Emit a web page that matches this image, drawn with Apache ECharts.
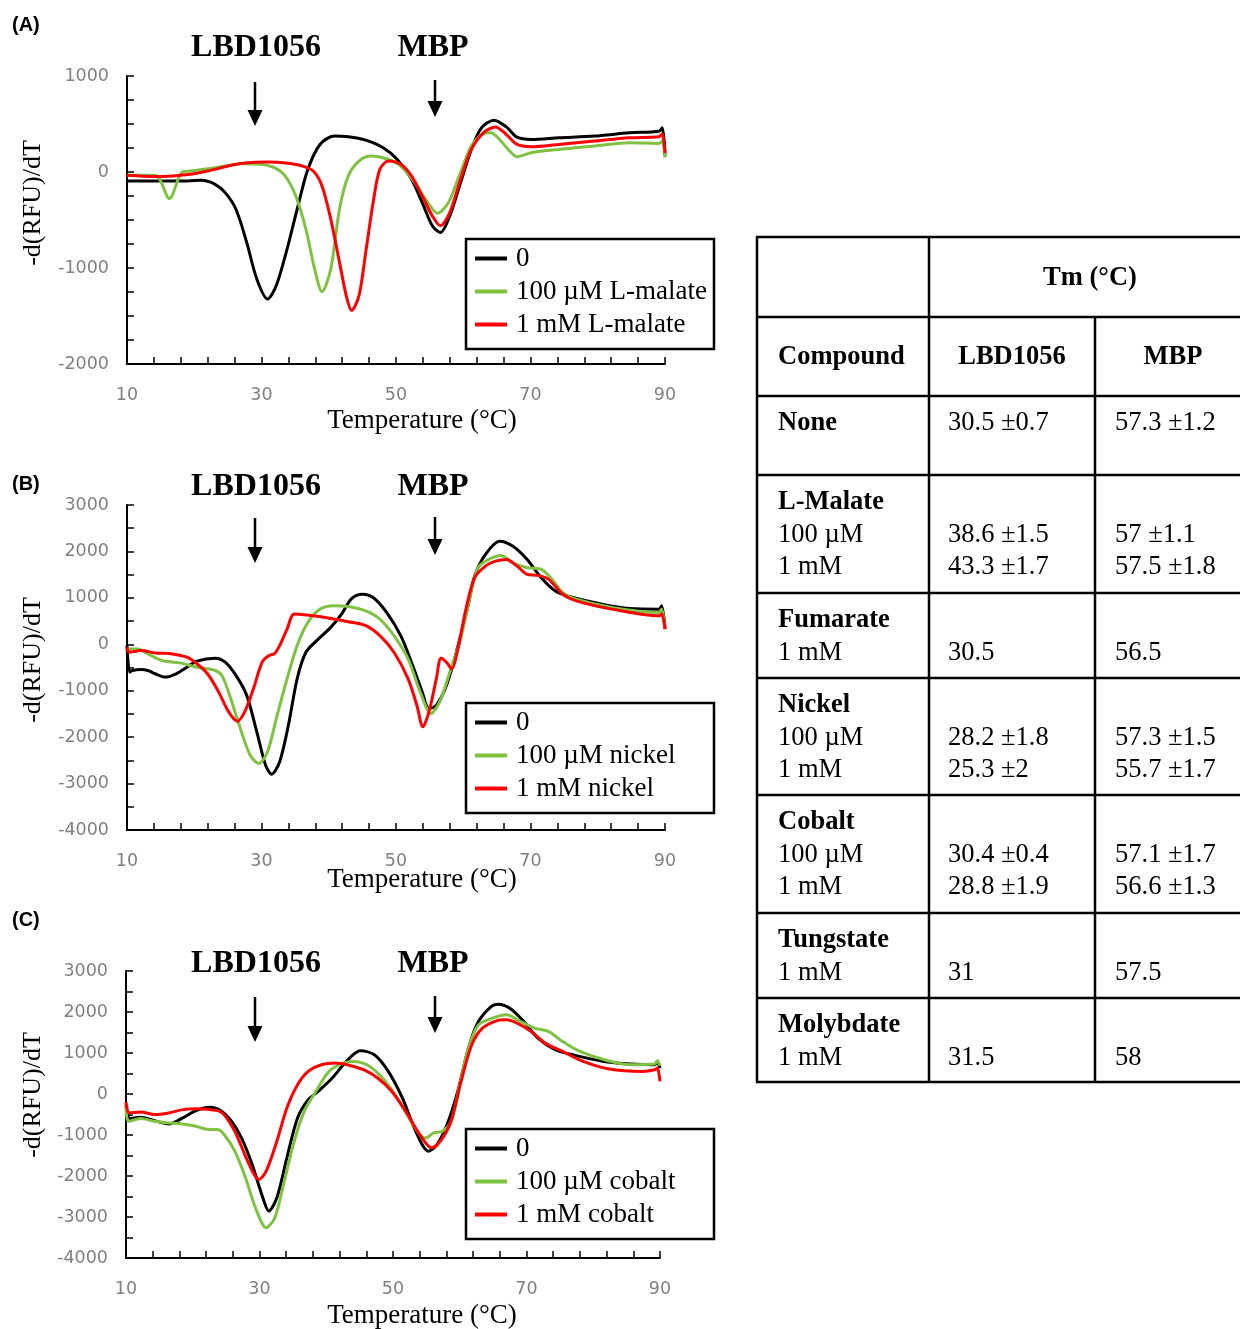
<!DOCTYPE html>
<html>
<head>
<meta charset="utf-8">
<script src="https://cdn.jsdelivr.net/npm/echarts/dist/echarts.min.js"></script>
<style>
html, body { margin: 0; padding: 0; background: #fff; }
#main { width: 1240px; height: 1329px; }
</style>
</head>
<body>
<div id="main"></div>
<script>
// 三个面板的曲线数据 [温度, -d(RFU)/dT]

// (A) L-malate
var malate0 = [[10,-93],[14,-93],[18,-93],[21,-87],[23.1,-128],[24.6,-215],[26.2,-388],[27.8,-733],[29.3,-1114],[30.9,-1322],[32.2,-1183],[33.8,-803],[35.3,-388],[36.9,28],[38.7,287],[40.8,374],[42.9,367],[45.5,332],[48.1,253],[50.2,131],[52.3,-76],[53.9,-318],[55.4,-560],[56.6,-630],[58,-457],[59.6,-111],[61.2,235],[62.7,460],[64.6,540],[66.4,470],[68,363],[70.1,339],[74.2,356],[79.5,374],[84.7,408],[89.1,425],[89.6,460],[90,166]];
var malate100uM = [[10,-35],[14.2,-35],[16.3,-277],[18.1,-7],[19.4,10],[22,34],[24.6,62],[27.2,86],[29.8,80],[31.9,45],[33.5,-41],[35.1,-250],[36.6,-595],[37.9,-1010],[39,-1246],[40.3,-1010],[41.6,-388],[42.9,-41],[44.5,114],[46.3,166],[48.6,138],[50.7,62],[52.8,-111],[54.4,-284],[56.2,-429],[57.8,-318],[59.4,-41],[61.2,270],[62.8,391],[64.1,408],[65.4,339],[66.9,218],[68,159],[70.1,200],[74.2,235],[79.5,270],[84.7,304],[89.1,298],[89.6,322],[90,149]];
var malate1mM = [[10,-35],[14.2,-48],[16.8,-41],[19.4,-24],[22,10],[24.6,55],[27.2,90],[30.9,104],[34,90],[36.1,62],[37.7,10],[39,-145],[40.3,-491],[41.6,-941],[42.6,-1287],[43.4,-1443],[44.5,-1287],[45.5,-837],[46.6,-318],[47.6,28],[48.9,114],[50.7,80],[52.3,-41],[53.9,-250],[55.4,-457],[56.6,-560],[58,-422],[59.6,-76],[61.2,235],[63,408],[64.8,470],[66.4,391],[68,287],[70.1,263],[74.2,287],[79.5,322],[84.7,356],[89.1,367],[89.6,395],[90,200]];

// (B) nickel
var nickel0 = [[10,-29],[10.4,-600],[10.8,-564],[12.1,-543],[13.1,-564],[14.2,-635],[15.7,-707],[17.3,-635],[18.9,-493],[20.4,-364],[23.1,-300],[24.6,-386],[26.2,-671],[27.8,-1100],[29.3,-1885],[30.6,-2599],[31.5,-2799],[32.7,-2528],[34,-1742],[35.3,-743],[36.6,-171],[38.2,79],[40.3,364],[41.9,650],[43.4,985],[45,1078],[46.6,1007],[48.6,685],[50.7,186],[52.3,-386],[53.9,-1028],[54.9,-1385],[56,-1314],[57.5,-885],[59.1,-100],[60.7,828],[61.7,1471],[63.3,1935],[65.4,2221],[67.4,2113],[69.5,1828],[71.6,1435],[73.7,1150],[75.8,1028],[79.5,900],[84.7,771],[89.1,757],[89.5,828],[90,328]];
var nickel100uM = [[10,-100],[11.6,-100],[13.1,-207],[15.2,-350],[17.8,-400],[20.4,-493],[23.1,-564],[24.1,-671],[25.1,-1028],[26.7,-1742],[28.3,-2385],[29.6,-2563],[30.9,-2313],[32.2,-1600],[33.8,-743],[35.3,-29],[36.9,471],[38.7,757],[40.8,828],[42.9,814],[45.5,721],[47.6,543],[49.7,186],[51.8,-314],[53.6,-1028],[55.2,-1492],[56.5,-1242],[58,-600],[59.6,114],[61.2,1150],[62.2,1649],[63.8,1828],[65.6,1913],[67.4,1756],[69.5,1649],[71.6,1614],[73.2,1399],[74.8,1114],[76.8,971],[82.1,793],[89.1,685],[89.5,757],[90,328]];
var nickel1mM = [[10,-64],[10.3,-171],[12.1,-136],[14.2,-186],[16.8,-207],[18.9,-278],[20.4,-420],[22,-640],[23.6,-1020],[25.1,-1450],[26.4,-1656],[27.5,-1457],[28.8,-957],[30.1,-386],[31.1,-243],[31.9,-207],[32.7,-29],[33.8,328],[34.9,650],[37.7,614],[40.3,557],[42.9,486],[45.5,400],[47.6,186],[49.7,-171],[51.8,-743],[53.1,-1314],[54,-1778],[54.9,-1457],[56,-743],[56.7,-300],[57.5,-386],[58.3,-528],[59.1,-171],[60.4,757],[61.7,1435],[63.3,1685],[64.8,1792],[66.4,1828],[68,1685],[69.5,1507],[71.1,1485],[72.7,1399],[74.8,1078],[76.8,935],[82.1,757],[89.1,614],[89.5,650],[90,328]];

// (C) cobalt
var cobalt0 = [[10,-260],[10.6,-600],[12.2,-568],[14.3,-649],[16.4,-730],[18.5,-584],[20.5,-406],[22.6,-324],[24.2,-406],[25.8,-665],[27.3,-1071],[28.9,-1720],[30.5,-2530],[31.4,-2855],[32.6,-2530],[34.1,-1557],[35.7,-584],[37.3,-138],[38.8,65],[40.9,389],[43,795],[45.1,1054],[47.2,957],[49.3,551],[51.4,-97],[53.4,-908],[55.3,-1395],[56.6,-1233],[58.1,-746],[59.7,65],[61.3,1119],[62.8,1768],[64.7,2133],[65.7,2190],[67.5,2092],[69.6,1768],[71.7,1362],[74.3,1079],[76.9,957],[82.2,779],[89.2,714],[89.6,779],[90,633]];
var cobalt100uM = [[10,-340],[10.4,-665],[12.2,-600],[14.3,-665],[16.4,-706],[18.5,-730],[20.5,-787],[22.1,-860],[23.7,-868],[24.7,-989],[26.3,-1395],[27.9,-2044],[29.4,-2774],[31,-3260],[32.3,-3017],[33.6,-2206],[35.2,-1152],[36.7,-422],[38.3,24],[40.4,551],[42.5,754],[44,795],[46.1,714],[48.2,430],[50.3,-16],[52.4,-584],[54,-989],[54.9,-1071],[56.1,-949],[57.4,-908],[58.7,-665],[60,227],[61.3,1119],[62.8,1687],[64.9,1849],[67,1930],[69.1,1768],[71.2,1606],[73.3,1525],[75.4,1281],[78,1038],[82.2,811],[85.8,714],[89.2,730],[89.6,811],[90,690]];
var cobalt1mM = [[10,-195],[10.5,-462],[12.2,-438],[14.3,-503],[16.4,-462],[18.5,-381],[20.5,-357],[23.7,-406],[24.7,-503],[26.3,-908],[27.9,-1517],[29.2,-1963],[29.9,-2084],[31,-1882],[32.6,-1152],[34.1,-341],[35.7,227],[37.3,551],[39.3,714],[41.4,754],[43.5,697],[45.6,592],[47.7,389],[49.8,65],[51.9,-422],[54,-989],[55.8,-1314],[57.1,-1152],[58.7,-665],[60.2,308],[61.8,1200],[63.4,1606],[65.5,1784],[67,1809],[68.6,1727],[70.7,1525],[72.8,1241],[75.4,1038],[78.5,795],[82.2,616],[87.4,551],[89.2,592],[89.6,633],[90,308]];

var names = [
    ['0', '100 µM L-malate', '1 mM L-malate'],
    ['0', '100 µM nickel', '1 mM nickel'],
    ['0', '100 µM cobalt', '1 mM cobalt']
];
var panelData = [
    [malate0, malate100uM, malate1mM],
    [nickel0, nickel100uM, nickel1mM],
    [cobalt0, cobalt100uM, cobalt1mM]
];
var panelTags = ['(A)', '(B)', '(C)'];
var yRanges = [[-2000, 1000, 250], [-4000, 3000, 500], [-4000, 3000, 500]];

// 表格
var tableCompounds = ['None', 'L-Malate', 'Fumarate', 'Nickel', 'Cobalt', 'Tungstate', 'Molybdate'];
var tableConcs = [[], ['100 µM', '1 mM'], ['1 mM'], ['100 µM', '1 mM'], ['100 µM', '1 mM'], ['1 mM'], ['1 mM']];
var tmLBD = [['30.5 ±0.7'], ['38.6 ±1.5', '43.3 ±1.7'], ['30.5'], ['28.2 ±1.8', '25.3 ±2'], ['30.4 ±0.4', '28.8 ±1.9'], ['31'], ['31.5']];
var tmMBP = [['57.3 ±1.2'], ['57 ±1.1', '57.5 ±1.8'], ['56.5'], ['57.3 ±1.5', '55.7 ±1.7'], ['57.1 ±1.7', '56.6 ±1.3'], ['57.5'], ['58']];

var colors = ['#000000', '#7fc241', '#ff0000'];
var serif = 'Liberation Serif';

// 布局
var layout = [
    { grid: { left: 127, top: 76, width: 538, height: 288 }, tagY: 25, headY: 47, lbdArrow: [82, 126], mbpArrow: [80, 117], legendTop: 239, xTitleY: 421, yTitleY: 203 },
    { grid: { left: 127, top: 505, width: 538, height: 325 }, tagY: 484, headY: 486, lbdArrow: [518, 563], mbpArrow: [517, 555], legendTop: 703, xTitleY: 880, yTitleY: 660 },
    { grid: { left: 126, top: 971, width: 534, height: 287 }, tagY: 920, headY: 963, lbdArrow: [997, 1042], mbpArrow: [996, 1033], legendTop: 1129, xTitleY: 1316, yTitleY: 1095 }
];

function txt(x, y, s, size, family, weight, align) {
    return {
        type: 'text', x: x, y: y, z: 20, silent: true,
        style: { text: s, fontSize: size, fontFamily: family, fontWeight: weight || 'normal', fill: '#000',
                 align: align || 'left', verticalAlign: 'middle' }
    };
}
function arrow(x, y0, y1) {
    return [
        { type: 'line', z: 20, silent: true, shape: { x1: x, y1: y0, x2: x, y2: y1 - 12 }, style: { stroke: '#000', lineWidth: 2.5 } },
        { type: 'polygon', z: 20, silent: true, shape: { points: [[x - 7.5, y1 - 16], [x + 7.5, y1 - 16], [x, y1]] }, style: { fill: '#000' } }
    ];
}
function hline(x1, x2, y) {
    return { type: 'line', z: 20, silent: true, shape: { x1: x1, y1: y, x2: x2, y2: y }, style: { stroke: '#000', lineWidth: 2.5 } };
}
function vline(x, y1, y2) {
    return { type: 'line', z: 20, silent: true, shape: { x1: x, y1: y1, x2: x, y2: y2 }, style: { stroke: '#000', lineWidth: 2.5 } };
}

var grids = [], xAxes = [], yAxes = [], series = [], legends = [], graphics = [];

for (var p = 0; p < 3; p++) {
    var L = layout[p];
    grids.push(L.grid);
    xAxes.push({
        type: 'value', gridIndex: p, min: 10, max: 90, interval: 4,
        axisLine: { onZero: false, lineStyle: { color: '#000', width: 2 } },
        axisTick: { inside: true, length: 7, lineStyle: { color: '#000', width: 1.5 } },
        splitLine: { show: false },
        axisLabel: {
            margin: 22, color: '#808080', fontFamily: 'DejaVu Sans', fontSize: 17.5,
            formatter: function (v) { return (v - 10) % 20 === 0 ? String(v) : ''; }
        }
    });
    yAxes.push({
        type: 'value', gridIndex: p, min: yRanges[p][0], max: yRanges[p][1], interval: yRanges[p][2],
        axisLine: { show: true, onZero: false, lineStyle: { color: '#000', width: 2 } },
        axisTick: { show: true, inside: true, length: 7, lineStyle: { color: '#000', width: 1.5 } },
        splitLine: { show: false },
        axisLabel: {
            margin: 18, color: '#808080', fontFamily: 'DejaVu Sans', fontSize: 17.5,
            formatter: function (v) { return v % 1000 === 0 ? String(v) : ''; }
        }
    });
    for (var s = 0; s < 3; s++) {
        series.push({
            name: names[p][s], type: 'line', xAxisIndex: p, yAxisIndex: p,
            data: panelData[p][s], symbol: 'none', smooth: 0.3,
            lineStyle: { color: colors[s], width: 3 }, itemStyle: { color: colors[s] }
        });
    }
    legends.push({
        data: names[p], orient: 'vertical', left: 466, top: L.legendTop, z: 30,
        padding: [6, 10, 10, 9], itemGap: 6, itemWidth: 32, itemHeight: 4, icon: 'rect',
        selectedMode: false,
        textStyle: { fontFamily: serif, fontSize: 27, color: '#000', padding: [0, 0, 0, 4] }
    });
    // 图例外框
    graphics.push({ type: 'rect', z: 5, silent: true, shape: { x: 466, y: L.legendTop, width: 248, height: 110 }, style: { fill: '#fff', stroke: '#000', lineWidth: 2.5 } });
    graphics.push(txt(12, L.tagY, panelTags[p], 20, 'Liberation Sans', 'bold'));
    graphics.push(txt(256, L.headY + 1, 'LBD1056', 32, serif, 'bold', 'center'));
    graphics.push(txt(433, L.headY + 1, 'MBP', 32, serif, 'bold', 'center'));
    graphics = graphics.concat(arrow(255, L.lbdArrow[0], L.lbdArrow[1]));
    graphics = graphics.concat(arrow(435, L.mbpArrow[0], L.mbpArrow[1]));
    graphics.push(txt(422, L.xTitleY, 'Temperature (°C)', 27, serif, 'normal', 'center'));
    var yt = txt(33, L.yTitleY, '-d(RFU)/dT', 26, serif, 'normal', 'center');
    yt.rotation = Math.PI / 2;
    graphics.push(yt);
}

// 表格线
var tx0 = 757, tx1 = 929, tx2 = 1095, txR = 1240;
var rowLines = [237, 317, 396, 475, 593, 678, 795, 913, 998, 1082];
for (var i = 0; i < rowLines.length; i++) graphics.push(hline(tx0 - 1, txR, rowLines[i]));
graphics.push(vline(tx0, 236, 1083));
graphics.push(vline(tx1, 236, 1083));
graphics.push(vline(tx2, 316, 1083));
graphics.push(txt(1090, 278, 'Tm (°C)', 26.5, serif, 'bold', 'center'));
graphics.push(txt(778, 357, 'Compound', 26.5, serif, 'bold'));
graphics.push(txt(1012, 357, 'LBD1056', 26.5, serif, 'bold', 'center'));
graphics.push(txt(1173, 357, 'MBP', 26.5, serif, 'bold', 'center'));
for (var r = 0; r < tableCompounds.length; r++) {
    var y0 = rowLines[r + 2] + 27.5;
    graphics.push(txt(778, y0, tableCompounds[r], 26.5, serif, 'bold'));
    var conc = tableConcs[r];
    for (var k = 0; k < conc.length; k++) {
        graphics.push(txt(778, y0 + 32.5 * (k + 1), conc[k], 26.5, serif));
    }
    for (var k2 = 0; k2 < tmLBD[r].length; k2++) {
        var yy = conc.length ? y0 + 32.5 * (k2 + 1) : y0;
        graphics.push(txt(948, yy, tmLBD[r][k2], 26.5, serif));
        graphics.push(txt(1115, yy, tmMBP[r][k2], 26.5, serif));
    }
}

var myChart = echarts.init(document.getElementById('main'));
var option = {
    animation: false,
    backgroundColor: '#fff',
    grid: grids,
    xAxis: xAxes,
    yAxis: yAxes,
    legend: legends,
    series: series,
    graphic: graphics
};
myChart.setOption(option);
</script>
</body>
</html>
